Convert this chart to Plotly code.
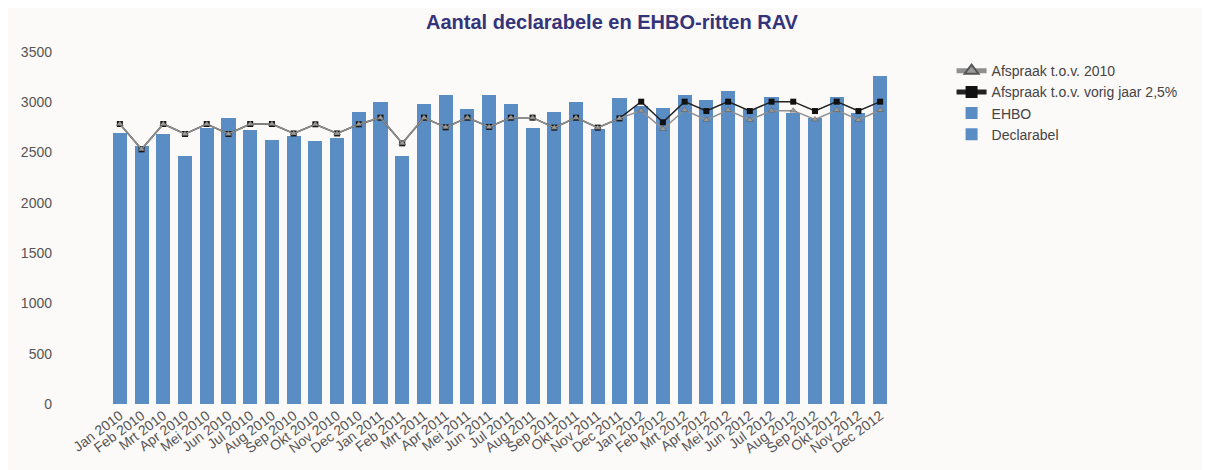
import plotly.graph_objects as go

months = [
    "Jan 2010", "Feb 2010", "Mrt 2010", "Apr 2010", "Mei 2010", "Jun 2010",
    "Jul 2010", "Aug 2010", "Sep 2010", "Okt 2010", "Nov 2010", "Dec 2010",
    "Jan 2011", "Feb 2011", "Mrt 2011", "Apr 2011", "Mei 2011", "Jun 2011",
    "Jul 2011", "Aug 2011", "Sep 2011", "Okt 2011", "Nov 2011", "Dec 2011",
    "Jan 2012", "Feb 2012", "Mrt 2012", "Apr 2012", "Mei 2012", "Jun 2012",
    "Jul 2012", "Aug 2012", "Sep 2012", "Okt 2012", "Nov 2012", "Dec 2012",
]

declarabel = [
    2670, 2540, 2655, 2440, 2710, 2810, 2690, 2600, 2635, 2590, 2615, 2875,
    2975, 2440, 2950, 3040, 2905, 3040, 2950, 2720, 2870, 2975, 2705, 3015,
    2935, 2910, 3040, 2995, 3080, 2905, 3025, 2860, 2810, 3025, 2860, 3230,
]
ehbo = [
    27, 25, 30, 26, 31, 31, 31, 25, 30, 25, 27, 31,
    31, 26, 30, 32, 32, 32, 30, 28, 30, 31, 29, 31,
    32, 30, 32, 32, 32, 28, 32, 30, 31, 32, 30, 34,
]

afspraak_2010 = [
    2784, 2532, 2784, 2685, 2784, 2685, 2784, 2784, 2690, 2781, 2690, 2781,
    2847, 2592, 2847, 2751, 2847, 2755, 2847, 2847, 2748, 2847, 2748, 2840,
    2917, 2734, 2923, 2824, 2923, 2824, 2917, 2917, 2830, 2923, 2824, 2923,
]
afspraak_vorig = [
    2784, 2532, 2784, 2685, 2784, 2685, 2784, 2784, 2690, 2781, 2690, 2781,
    2847, 2592, 2847, 2751, 2847, 2755, 2847, 2847, 2748, 2847, 2748, 2840,
    3006, 2801, 3006, 2913, 3006, 2913, 3006, 3006, 2913, 3006, 2913, 3006,
]

bar_color = "#5b8dc5"

fig = go.Figure()
fig.add_trace(go.Bar(
    x=months, y=declarabel, name="Declarabel",
    marker=dict(color=bar_color, line=dict(width=0)),
))
fig.add_trace(go.Bar(
    x=months, y=ehbo, name="EHBO",
    marker=dict(color=bar_color, line=dict(width=0)),
))
fig.add_trace(go.Scatter(
    x=months, y=afspraak_vorig, name="Afspraak t.o.v. vorig jaar 2,5%",
    mode="lines+markers",
    line=dict(color="#222222", width=1.5),
    marker=dict(symbol="square", size=6, color="#111111"),
))
fig.add_trace(go.Scatter(
    x=months, y=afspraak_2010, name="Afspraak t.o.v. 2010",
    mode="lines+markers",
    line=dict(color="#8f8f8f", width=1.5),
    marker=dict(symbol="triangle-up", size=6, color="#9a9a9a",
                line=dict(color="#555555", width=0.5)),
))

# page body adds an 8px offset, so the paper is sized to fill the rest
fig.update_layout(
    width=1202, height=462,
    barmode="stack", bargap=0.35,
    paper_bgcolor="#fcf9f9", plot_bgcolor="#fcf9f9",
    font=dict(family="Liberation Sans, Arial, sans-serif", color="#555555", size=12),
    title=dict(
        text="<b>Aantal declarabele en EHBO-ritten RAV</b>",
        x=0.5025, xanchor="center", y=0.97, yanchor="middle",
        font=dict(size=20, color="#34347a"),
    ),
    legend=dict(
        xref="container", yref="container",
        x=0.785, y=0.898, xanchor="left", yanchor="top",
        traceorder="reversed", font=dict(size=14, color="#444444"),
        bgcolor="rgba(0,0,0,0)", itemsizing="constant",
        tracegroupgap=0,
    ),
    margin=dict(l=101, r=319, t=44, b=66),
)
fig.update_yaxes(
    range=[0, 3500], dtick=500, showgrid=False, zeroline=False,
    showline=False, ticklabelstandoff=56, automargin=False,
    tickfont=dict(size=14, color="#555555"),
)
fig.update_xaxes(
    range=[-0.5, 35.5], tickangle=-37, showgrid=False, showline=False,
    automargin=False, tickfont=dict(size=14, color="#555555"),
)

fig.write_html("out.html")
